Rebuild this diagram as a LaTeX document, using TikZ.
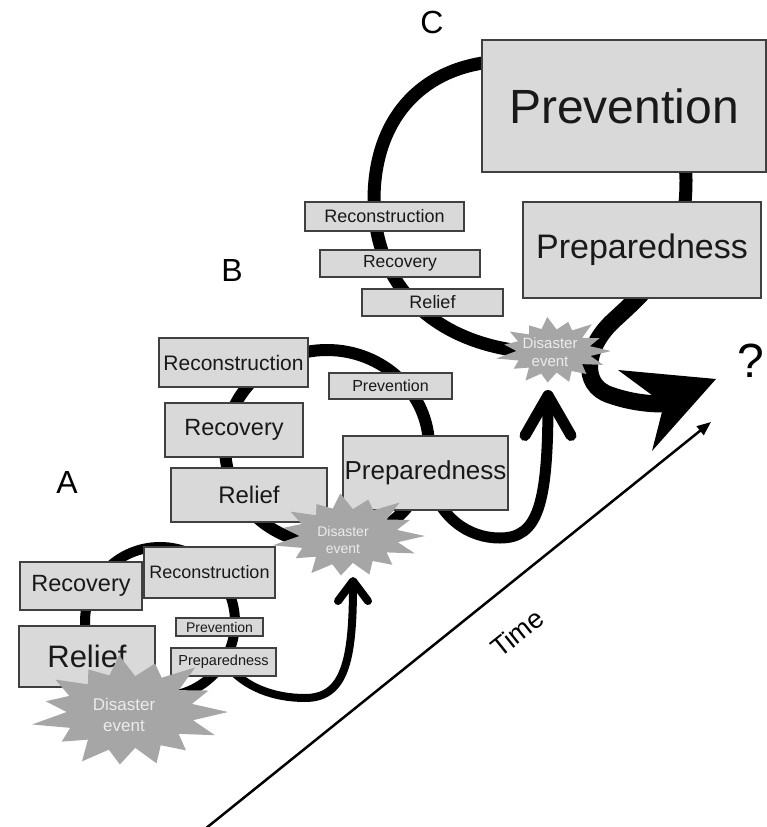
\documentclass[tikz,border=0pt]{standalone}
\usepackage{fontspec}
\setmainfont{Liberation Sans}
\usetikzlibrary{arrows.meta}
\definecolor{boxfill}{HTML}{D9D9D9}
\definecolor{boxline}{HTML}{404040}
\definecolor{burstcol}{HTML}{A6A6A6}
\definecolor{bursttext}{HTML}{EBEBEB}
\tikzset{
 stage/.style={draw=boxline, fill=boxfill, line width=1.3pt, inner sep=0pt, text=black!90},
 cyc/.style={draw=black, line cap=round},
 lbl/.style={inner sep=0pt, text=black},
 dtext/.style={align=center, text=bursttext, inner sep=0pt},
}
\newcommand{\stagebox}[7]{\node[stage, minimum width={(#4-#2)*1pt}, minimum height={(#5-#3)*1pt}, font=\fontsize{#6}{#6}\selectfont] (#1) at ({(#2+#4)/2},{(#3+#5)/2}) {#7};}
\newcommand{\burstat}[3]{%
\begin{scope}[shift={(#1)}, x=#2pt, y=#3pt]
\fill[burstcol] (0:1) -- (12:0.65) -- (24:0.88) -- (36:0.62) -- (48:1.0) -- (60:0.66) -- (72:0.85) -- (84:0.6) -- (96:0.95) -- (108:0.64) -- (120:0.82) -- (132:0.62) -- (144:0.92) -- (156:0.66) -- (168:0.86) -- (180:0.63) -- (192:1.0) -- (204:0.65) -- (216:0.84) -- (228:0.62) -- (240:0.95) -- (252:0.66) -- (264:0.88) -- (276:0.6) -- (288:0.9) -- (300:0.64) -- (312:0.86) -- (324:0.62) -- (336:0.95) -- (348:0.66) -- cycle;
\end{scope}}
\begin{document}
\begin{tikzpicture}[x=1pt, y=-1pt]
\useasboundingbox (0,0) rectangle (767,827);
% time axis
\coordinate (t0) at (205,829);
\coordinate (t1) at (711,422);
\draw[line width=2.5pt, -{Triangle[length=14pt,width=11pt]}] (t0) -- (t1);
\node[lbl, font=\fontsize{27}{27}\selectfont, rotate=38.7] (time) at (517,633) {Time};
% cycle A
\coordinate (cA) at (160,622);
\draw[cyc, line width=10pt] (cA) circle[radius=75];
\coordinate (abStart) at (226,664);
\coordinate (abTip) at (353,577);
\draw[cyc, line width=8pt, -{Straight Barb[length=20pt,width=30pt,round]}] (abStart) .. controls (245,688) and (275,698) .. (305,698) .. controls (345,698) and (353,660) .. (abTip);
% cycle B
\coordinate (cB) at (327,447);
\draw[cyc, line width=12pt] (cB) ellipse[x radius=102, y radius=97];
\coordinate (bcStart) at (428,478);
\coordinate (bcTip) at (548,390);
\draw[cyc, line width=11pt, -{Straight Barb[length=40pt,width=46pt,round]}] (bcStart) .. controls (440,518) and (468,538) .. (500,538) .. controls (538,538) and (548,505) .. (bcTip);
% cycle C
\coordinate (cStart) at (530,352);
\coordinate (cMid) at (672,250);
\coordinate (cEnd) at (664,404);
\draw[cyc, line width=13pt] (cStart) .. controls (440,345) and (374,290) .. (374,200) .. controls (374,120) and (420,70) .. (490,62) .. controls (600,50) and (686,110) .. (686,180) .. controls (686,215) and (680,235) .. (cMid);
\draw[cyc, line width=17pt] (cMid) .. controls (655,285) and (630,305) .. (612,322) .. controls (585,348) and (580,385) .. (610,395) .. controls (630,402) and (648,404) .. (cEnd);
\fill (618,370) -- (716,379) -- (652,451) -- (cEnd) -- cycle;
% boxes A
\stagebox{recA}{20}{562}{142}{610}{23.5}{Recovery}
\stagebox{relA}{19}{626}{155}{687}{31}{Relief}
\stagebox{conA}{144}{547}{275}{598}{18}{Reconstruction}
\stagebox{prvA}{176}{618}{263}{636}{14}{Prevention}
\stagebox{preA}{171}{648}{276}{676}{14.5}{Preparedness}
% boxes B
\stagebox{conB}{159}{338}{308}{387}{21}{Reconstruction}
\stagebox{recB}{165}{403}{303}{457}{23.5}{Recovery}
\stagebox{relB}{171}{468}{327}{522}{24}{Relief}
\stagebox{prvB}{329}{373}{452}{399}{16}{Prevention}
\stagebox{preB}{343}{436}{508}{510}{26}{Preparedness}
% boxes C
\stagebox{prvC}{482}{40}{766}{172}{48}{Prevention}
\stagebox{preC}{523}{202}{761}{298}{34}{Preparedness}
\stagebox{conC}{305}{202}{464}{231}{18}{Reconstruction}
\stagebox{recC}{320}{250}{480}{277}{17.5}{Recovery}
\stagebox{relC}{362}{289}{503}{316}{18}{Relief}
% disaster events
\coordinate (bA) at (129,712);
\coordinate (bB) at (348,536);
\coordinate (bC) at (553,351);
\burstat{bA}{99}{60}
\burstat{bB}{77}{45}
\burstat{bC}{58}{36}
\node[dtext, font=\fontsize{17}{21}\selectfont] (dA) at (124,715) {Disaster\\event};
\node[dtext, font=\fontsize{14}{17}\selectfont] (dB) at (343,540) {Disaster\\event};
\node[dtext, font=\fontsize{15}{18}\selectfont] (dC) at (550,352) {Disaster\\event};
% labels
\node[lbl, font=\fontsize{32}{32}\selectfont] (labA) at (67,482) {A};
\node[lbl, font=\fontsize{32}{32}\selectfont] (labB) at (232,270) {B};
\node[lbl, font=\fontsize{32}{32}\selectfont] (labC) at (432,22) {C};
\node[lbl, font=\fontsize{48}{48}\selectfont] (q) at (751,361) {?};
\end{tikzpicture}
\end{document}
